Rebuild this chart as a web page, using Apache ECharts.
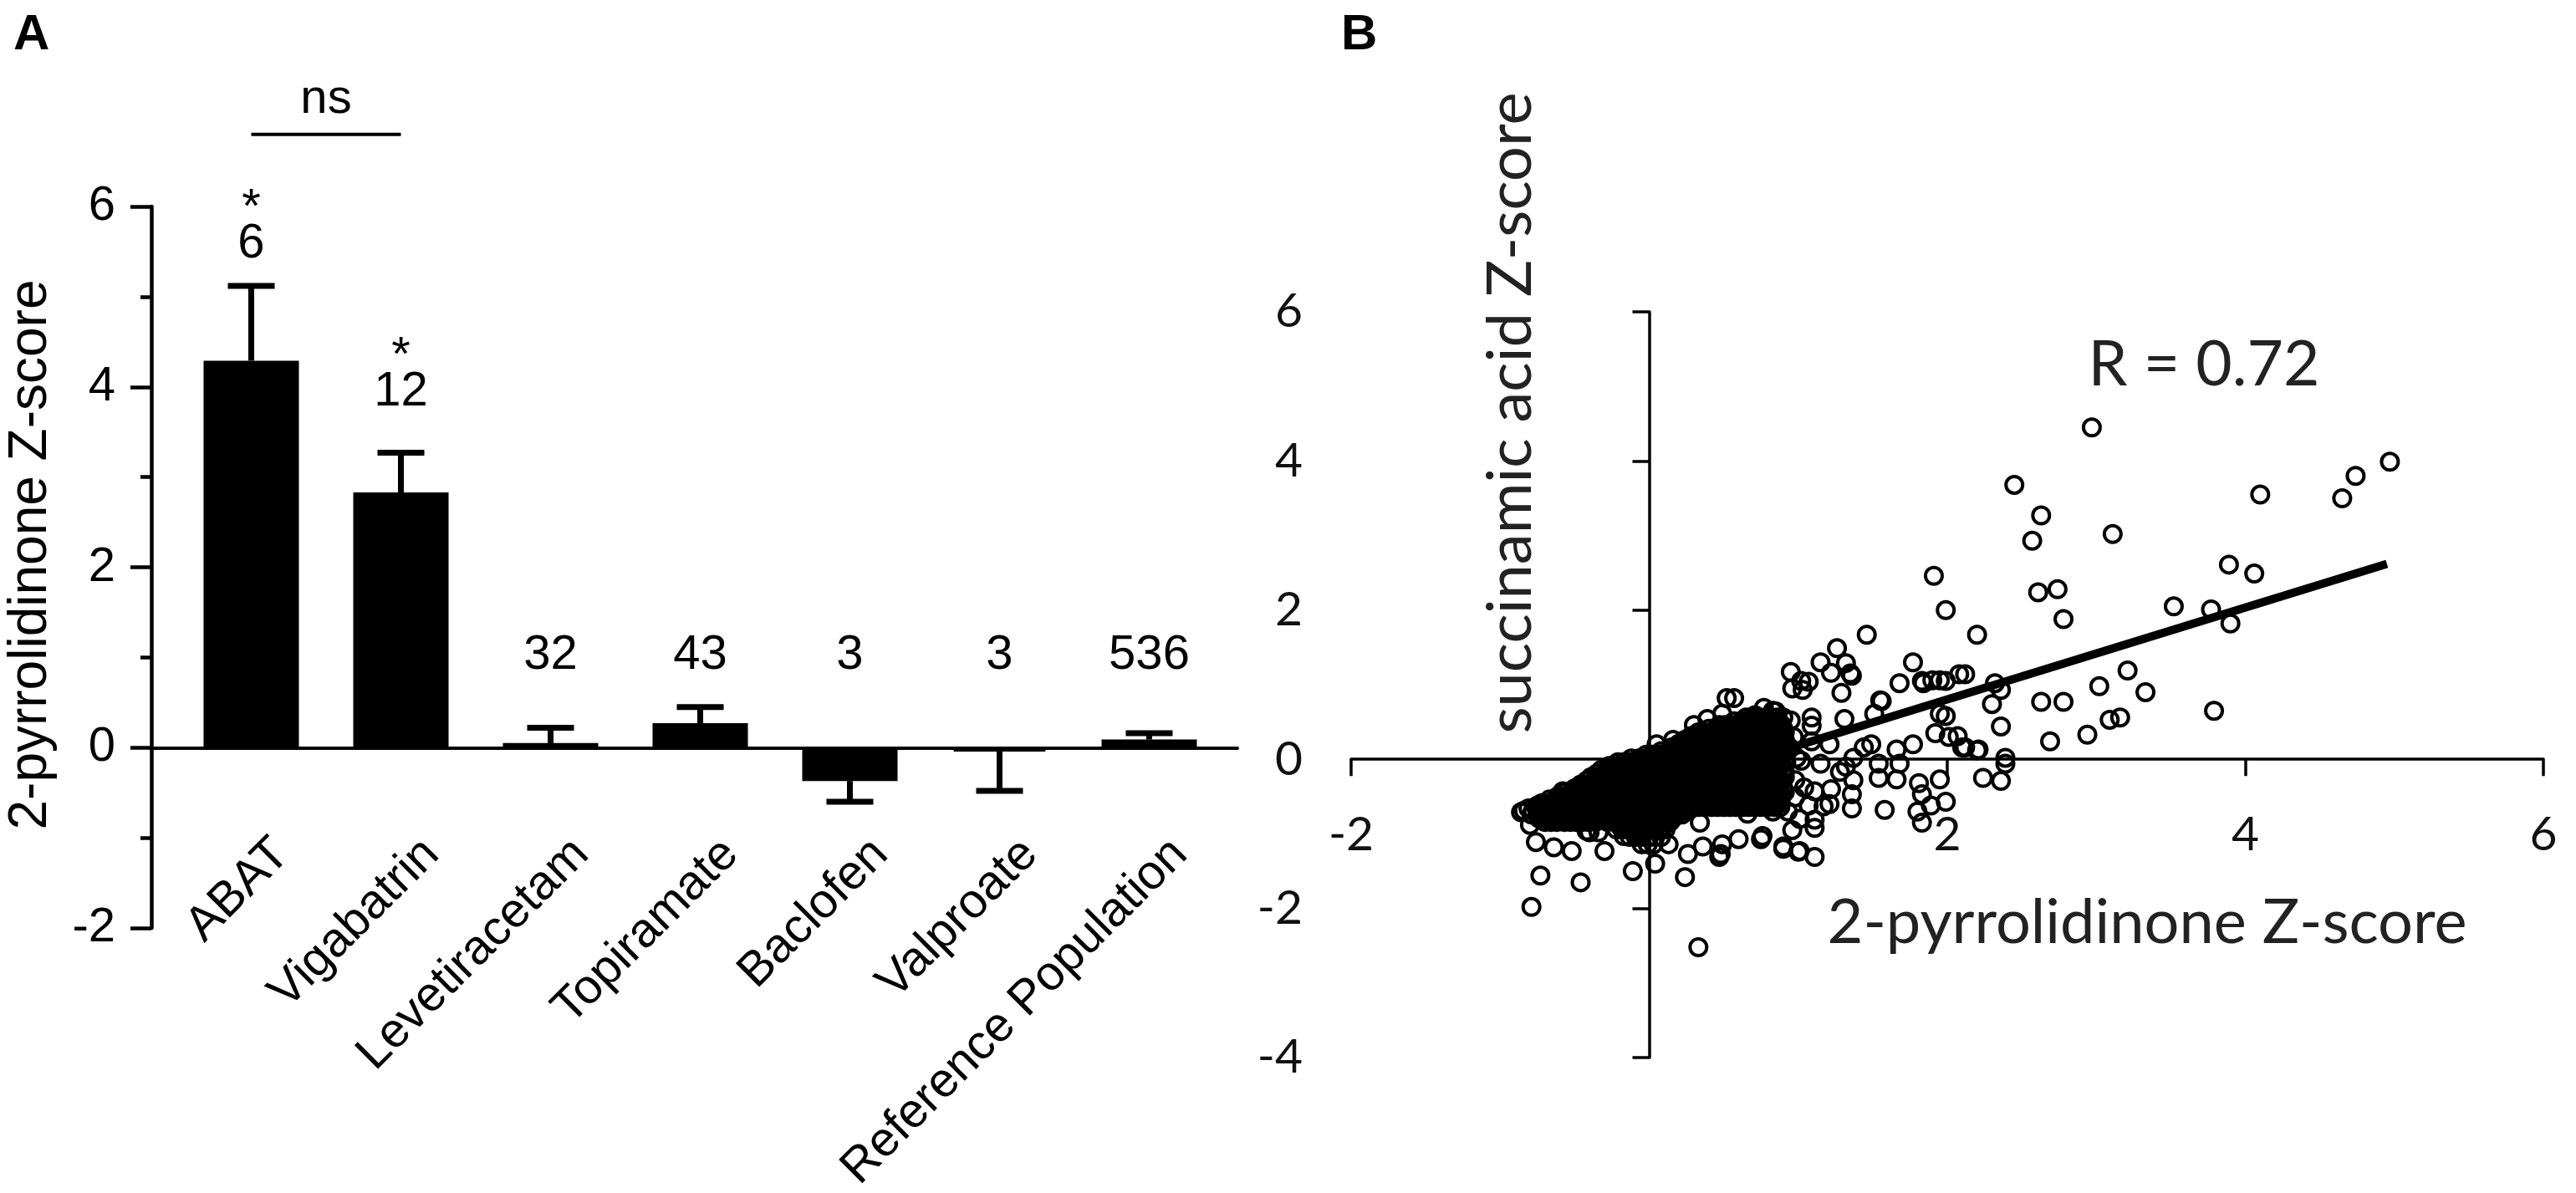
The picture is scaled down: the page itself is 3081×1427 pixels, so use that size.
<!DOCTYPE html>
<html>
<head>
<meta charset="utf-8">
<title>2-pyrrolidinone Z-score</title>
<script src="https://cdn.jsdelivr.net/npm/echarts@6/dist/echarts.min.js"></script>
<style>
  html, body { margin: 0; padding: 0; background: #fff; }
  #main { width: 3081px; height: 1427px; }
</style>
</head>
<body>
<div id="main"></div>
<script>
// ---- panel A data ----
var drugs = ['ABAT', 'Vigabatrin', 'Levetiracetam', 'Topiramate', 'Baclofen', 'Valproate', 'Reference Population'];
var meanZ = [4.29, 2.83, 0.05, 0.27, -0.37, -0.04, 0.09];
var semZ = [0.83, 0.44, 0.17, 0.18, 0.23, 0.44, 0.07];
var sampleN = ['6', '12', '32', '43', '3', '3', '536'];
var starred = [true, true, false, false, false, false, false];
var nLabelLevel = [5.58, 3.94, 1.02, 1.02, 1.02, 1.02, 1.02];
var nsLevel = 6.8;

// ---- panel B data ----
// dense core of the cloud (overlapping circles), read row by row: [y, [x, x, ...]]
var clusterRows = [
  [0.56, [0.65, 0.69, 0.74, 0.78, 0.82, 0.86, 0.90]],
  [0.51, [0.57, 0.62, 0.67, 0.72, 0.77, 0.82, 0.87]],
  [0.46, [0.47, 0.51, 0.55, 0.60, 0.64, 0.68, 0.72, 0.76, 0.81, 0.85, 0.89]],
  [0.41, [0.40, 0.45, 0.50, 0.55, 0.60, 0.65, 0.70, 0.75, 0.80, 0.85, 0.90]],
  [0.36, [0.33, 0.37, 0.41, 0.46, 0.50, 0.54, 0.58, 0.62, 0.66, 0.71, 0.75, 0.79, 0.83, 0.87, 0.91]],
  [0.31, [0.28, 0.33, 0.38, 0.43, 0.48, 0.53, 0.58, 0.63, 0.68, 0.73, 0.78, 0.83, 0.88]],
  [0.26, [0.24, 0.28, 0.32, 0.37, 0.41, 0.45, 0.49, 0.53, 0.57, 0.62, 0.66, 0.70, 0.74, 0.78, 0.83, 0.87, 0.91]],
  [0.21, [0.20, 0.25, 0.30, 0.35, 0.40, 0.45, 0.50, 0.55, 0.60, 0.65, 0.70, 0.75, 0.80, 0.85, 0.90]],
  [0.16, [0.15, 0.19, 0.23, 0.28, 0.32, 0.36, 0.40, 0.44, 0.49, 0.53, 0.57, 0.61, 0.65, 0.70, 0.74, 0.78, 0.82, 0.86, 0.91]],
  [0.11, [0.08, 0.13, 0.18, 0.23, 0.28, 0.33, 0.38, 0.43, 0.48, 0.53, 0.58, 0.63, 0.68, 0.73, 0.78, 0.83, 0.88]],
  [0.06, [-0.02, 0.02, 0.06, 0.11, 0.15, 0.19, 0.23, 0.27, 0.32, 0.36, 0.40, 0.44, 0.48, 0.53, 0.57, 0.61, 0.65, 0.69, 0.74, 0.78, 0.82, 0.86, 0.90]],
  [0.01, [-0.12, -0.07, -0.02, 0.03, 0.08, 0.13, 0.18, 0.23, 0.28, 0.33, 0.38, 0.43, 0.48, 0.53, 0.58, 0.63, 0.68, 0.73, 0.78, 0.83, 0.88]],
  [-0.04, [-0.21, -0.17, -0.13, -0.08, -0.04, 0.00, 0.04, 0.08, 0.13, 0.17, 0.21, 0.25, 0.29, 0.34, 0.38, 0.42, 0.46, 0.50, 0.55, 0.59, 0.63, 0.67, 0.71, 0.76, 0.80, 0.84, 0.88, 0.92]],
  [-0.09, [-0.27, -0.22, -0.17, -0.12, -0.07, -0.02, 0.03, 0.08, 0.13, 0.18, 0.23, 0.28, 0.33, 0.38, 0.43, 0.48, 0.53, 0.58, 0.63, 0.68, 0.73, 0.78, 0.83, 0.88]],
  [-0.14, [-0.32, -0.28, -0.24, -0.19, -0.15, -0.11, -0.07, -0.03, 0.02, 0.06, 0.10, 0.14, 0.18, 0.23, 0.27, 0.31, 0.35, 0.39, 0.44, 0.48, 0.52, 0.56, 0.60, 0.65, 0.69, 0.73, 0.77, 0.81, 0.86, 0.90]],
  [-0.19, [-0.35, -0.30, -0.25, -0.20, -0.15, -0.10, -0.05, 0.00, 0.05, 0.10, 0.15, 0.20, 0.25, 0.30, 0.35, 0.40, 0.45, 0.50, 0.55, 0.60, 0.65, 0.70, 0.75, 0.80, 0.85, 0.90]],
  [-0.24, [-0.39, -0.35, -0.31, -0.26, -0.22, -0.18, -0.14, -0.10, -0.05, -0.01, 0.03, 0.07, 0.11, 0.16, 0.20, 0.24, 0.28, 0.32, 0.37, 0.41, 0.45, 0.49, 0.53, 0.58, 0.62, 0.66, 0.70, 0.74, 0.79, 0.83, 0.87, 0.91]],
  [-0.29, [-0.42, -0.37, -0.32, -0.27, -0.22, -0.17, -0.12, -0.07, -0.02, 0.03, 0.08, 0.13, 0.18, 0.23, 0.28, 0.33, 0.38, 0.43, 0.48, 0.53, 0.58, 0.63, 0.68, 0.73, 0.78, 0.83, 0.88]],
  [-0.34, [-0.46, -0.42, -0.38, -0.33, -0.29, -0.25, -0.21, -0.17, -0.12, -0.08, -0.04, 0.00, 0.04, 0.09, 0.13, 0.17, 0.21, 0.25, 0.30, 0.34, 0.38, 0.42, 0.46, 0.51, 0.55, 0.59, 0.63, 0.67, 0.72, 0.76, 0.80, 0.84, 0.88]],
  [-0.39, [-0.50, -0.45, -0.40, -0.35, -0.30, -0.25, -0.20, -0.15, -0.10, -0.05, 0.00, 0.05, 0.10, 0.15, 0.20, 0.25, 0.30, 0.35, 0.40, 0.45, 0.50, 0.55, 0.60, 0.65, 0.70, 0.75, 0.80, 0.85, 0.90]],
  [-0.44, [-0.56, -0.52, -0.48, -0.43, -0.39, -0.35, -0.31, -0.27, -0.22, -0.18, -0.14, -0.10, -0.06, -0.01, 0.03, 0.07, 0.11, 0.15, 0.20, 0.24, 0.28, 0.32, 0.36, 0.41, 0.45, 0.49, 0.53, 0.57, 0.62, 0.66, 0.70, 0.74, 0.78, 0.83, 0.87, 0.91]],
  [-0.49, [-0.61, -0.56, -0.51, -0.46, -0.41, -0.36, -0.31, -0.26, -0.21, -0.16, -0.11, -0.06, -0.01, 0.04, 0.09, 0.14, 0.19, 0.24, 0.29, 0.34, 0.39, 0.44, 0.49, 0.54, 0.59, 0.64, 0.69, 0.74, 0.79, 0.84, 0.89]],
  [-0.54, [-0.67, -0.63, -0.59, -0.54, -0.50, -0.46, -0.42, -0.38, -0.33, -0.29, -0.25, -0.21, -0.17, -0.12, -0.08, -0.04, 0.00, 0.04, 0.09, 0.13, 0.17, 0.21, 0.25, 0.30, 0.34, 0.38, 0.42, 0.46, 0.51, 0.55, 0.59, 0.63, 0.67, 0.72, 0.76, 0.80, 0.84, 0.88]],
  [-0.59, [-0.72, -0.67, -0.62, -0.57, -0.52, -0.47, -0.42, -0.37, -0.32, -0.27, -0.22, -0.17, -0.12, -0.07, -0.02, 0.03, 0.08, 0.13, 0.18, 0.23, 0.28, 0.33, 0.38, 0.43, 0.48, 0.53, 0.58, 0.63, 0.68, 0.73, 0.78, 0.83, 0.88]],
  [-0.64, [-0.76, -0.72, -0.68, -0.63, -0.59, -0.55, -0.51, -0.47, -0.42, -0.38, -0.34, -0.30, -0.26, -0.21, -0.17, -0.13, -0.09, -0.05, 0.00, 0.04, 0.08, 0.12, 0.16, 0.21, 0.25, 0.29, 0.33, 0.37, 0.42, 0.46, 0.50, 0.54, 0.58, 0.63, 0.67, 0.71, 0.75, 0.79, 0.84, 0.88]],
  [-0.69, [-0.78, -0.73, -0.68, -0.63, -0.58, -0.53, -0.48, -0.43, -0.38, -0.33, -0.28, -0.23, -0.18, -0.13, -0.08, -0.03, 0.02, 0.07, 0.12, 0.17, 0.22]],
  [-0.74, [-0.79, -0.75, -0.71, -0.66, -0.62, -0.58, -0.54, -0.50, -0.45, -0.41, -0.37, -0.33, -0.29, -0.24, -0.20, -0.16, -0.12, -0.08, -0.03, 0.01, 0.05, 0.09, 0.13, 0.18, 0.22]],
  [-0.79, [-0.74, -0.69, -0.64, -0.59, -0.54, -0.49, -0.44, -0.39, -0.34, -0.24, -0.19, -0.14, -0.09, -0.04, 0.01, 0.06, 0.11, 0.16]],
  [-0.84, [-0.70, -0.66, -0.62, -0.57, -0.53, -0.49, -0.45, -0.41, -0.36, -0.28, -0.23, -0.19, -0.15, -0.11, -0.06, -0.02, 0.02, 0.06, 0.10, 0.14]],
  [-0.89, [-0.20, -0.15, -0.10, -0.05, 0.00, 0.05, 0.10]],
  [-0.94, [-0.22, -0.18, -0.14, -0.09, -0.05, -0.01, 0.03, 0.07, 0.11]],
  [-1.04, [-0.13, -0.09, -0.05, 0.00, 0.04, 0.08]],
  [-1.14, [-0.05, -0.01, 0.03]]
];

// individual circles around the core and in the sparse tail
var spreadPoints = [
  [2.97, 4.45], [2.45, 3.68], [2.63, 3.27], [2.57, 2.93], [3.11, 3.02], [4.10, 3.55], [4.65, 3.50],
  [4.74, 3.80], [4.97, 3.99], [2.61, 2.24], [2.74, 2.28], [2.78, 1.88], [2.20, 1.67], [3.89, 2.61],
  [4.06, 2.49], [3.52, 2.05], [3.77, 2.01], [3.90, 1.82], [2.12, 1.14], [2.32, 1.02], [2.36, 0.93],
  [2.30, 0.74], [2.36, 0.44], [2.63, 0.77], [2.78, 0.77], [3.02, 0.98], [3.21, 1.19], [3.33, 0.90],
  [3.09, 0.53], [3.16, 0.56], [2.94, 0.33], [2.69, 0.24], [3.79, 0.65], [2.20, 0.12], [2.12, 0.16],
  [2.39, 0.02], [2.39, -0.06], [2.24, -0.25], [2.36, -0.29], [1.91, 2.46], [1.99, 2.00],
  [1.46, 1.67], [1.26, 1.49], [1.15, 1.30], [0.95, 1.17], [1.32, 1.29], [1.36, 1.12], [1.22, 1.16],
  [1.07, 1.04], [1.03, 0.93], [1.29, 0.89], [1.77, 1.30], [1.68, 1.02], [1.84, 1.02], [1.90, 1.06],
  [1.95, 1.06], [2.08, 1.14], [1.56, 0.78], [1.51, 0.61], [1.31, 0.54], [1.09, 0.56], [1.09, 0.45],
  [1.95, 0.61], [1.99, 0.58], [1.92, 0.35], [2.01, 0.30], [2.07, 0.31], [2.10, 0.16], [2.21, 0.13],
  [1.77, 0.20], [1.66, 0.13], [1.68, -0.06], [1.54, -0.25], [1.66, -0.27], [1.81, -0.32], [1.95, -0.27],
  [1.83, -0.47], [1.89, -0.62], [1.99, -0.57], [1.80, -0.70], [1.83, -0.85], [1.58, -0.68], [1.49, 0.20],
  [1.44, 0.16], [1.37, 0.02], [1.54, -0.06], [1.32, -0.10], [1.15, -0.06], [1.28, -0.17], [1.37, -0.28],
  [1.36, -0.47], [1.36, -0.66], [1.22, -0.40], [1.21, -0.60], [1.11, -0.43], [1.07, -0.62], [1.11, -0.81],
  [1.11, -0.92], [0.98, -0.51], [0.93, -0.70], [0.83, -0.70], [0.76, -1.03], [0.90, -1.20], [1.00, -1.24],
  [1.11, -1.31], [1.02, -0.02], [0.94, 0.16], [1.09, 0.24], [1.21, 0.20], [0.83, 0.65], [0.87, 0.46],
  [0.78, 0.28], [0.91, -0.17], [0.79, -0.32], [0.85, -0.47], [1.02, 1.05], [1.35, 1.15], [1.55, 0.79],
  [1.83, 1.05], [1.99, 1.05], [1.17, -0.63], [1.01, -1.23], [0.90, -1.17], [0.48, -1.27], [0.36, -1.17],
  [0.24, -1.58], [0.33, -2.52], [0.04, -1.40], [-0.11, -1.50], [-0.30, -1.23], [-0.52, -1.23],
  [-0.46, -1.65], [-0.73, -1.56], [-0.79, -1.98], [-0.84, -0.69], [-0.64, -1.18], [-0.76, -1.11],
  [-0.80, -0.88], [-0.81, -0.66], [-0.86, -0.71], [-0.75, -0.62], [-0.40, -0.98], [-0.34, -0.98],
  [-0.42, -0.96], [-0.17, -1.03], [-0.58, -0.43], [-0.64, -0.58], [-0.69, -0.77], [0.57, 0.82],
  [0.49, 0.61], [0.39, 0.54], [0.30, 0.46], [0.16, 0.26], [0.05, 0.20], [0.77, 0.69], [0.26, -1.27],
  [0.47, -1.31], [0.49, -1.14], [0.60, -1.07], [0.75, -1.07], [0.66, -0.73], [0.13, -1.14], [0.34, -0.85],
  [0.52, 0.82], [0.71, 0.59], [0.85, 0.64], [0.96, 0.95], [0.97, 0.30], [0.98, -0.28], [1.01, -0.80],
  [0.95, 0.52], [0.99, 0.02], [1.04, -0.38], [0.96, -0.95]
];

// fitted line, read at its two ends
var fitLine = [[-0.6, -0.80], [4.95, 2.62]];

var scatterData = [];
clusterRows.forEach(function (row) {
  row[1].forEach(function (x) { scatterData.push([x, row[0]]); });
});
scatterData = scatterData.concat(spreadPoints);

var fontA = '"Liberation Sans", Arial, sans-serif';
var fontB = 'Lato, "Open Sans", sans-serif';

// panel B plot box; its upper part (y >= 0) carries the x axis
var bBox = { left: 1616, top: 373, width: 1426, height: 892 };
var bY = { min: -4, max: 6 };
var bUpperHeight = bBox.height * bY.max / (bY.max - bY.min);

var myChart = echarts.init(document.getElementById('main'));

var option = {
  backgroundColor: '#fff',
  animation: false,
  grid: [
    { left: 211, top: 247, width: 1253, height: 863 },   // bars
    { left: 181, top: 247, width: 1299, height: 863 },   // axis frame of A
    { left: bBox.left, top: bBox.top, width: bBox.width, height: bBox.height },  // scatter
    { left: bBox.left, top: bBox.top, width: bBox.width, height: bUpperHeight }  // x axis of B on y = 0
  ],
  xAxis: [
    { gridIndex: 0, type: 'category', data: drugs, show: false },
    {
      gridIndex: 1, type: 'value', min: 0, max: 1,
      axisLine: { onZero: true, lineStyle: { color: '#000', width: 4 } },
      axisTick: { show: false }, axisLabel: { show: false }, splitLine: { show: false }
    },
    { gridIndex: 2, type: 'value', min: -2, max: 6, show: false },
    {
      gridIndex: 3, type: 'value', min: -2, max: 6, interval: 2,
      axisLine: { onZero: false, lineStyle: { color: '#000', width: 3.5 } },
      axisTick: { length: 20, lineStyle: { color: '#000', width: 3.5 } },
      axisLabel: {
        margin: 62, fontSize: 57, fontFamily: fontB, color: '#111',
        formatter: function (v) { return v === 0 ? '' : v; }
      },
      splitLine: { show: false }
    }
  ],
  yAxis: [
    { gridIndex: 0, type: 'value', min: -2, max: 6, show: false },
    {
      gridIndex: 1, type: 'value', min: -2, max: 6, interval: 2,
      name: '2-pyrrolidinone Z-score', nameLocation: 'middle', nameGap: 112,
      nameTextStyle: { fontSize: 64, fontFamily: fontA, color: '#000', padding: [0, 0, 0, 30] },
      axisLine: { onZero: false, lineStyle: { color: '#000', width: 4.5 } },
      axisTick: { length: 25, lineStyle: { color: '#000', width: 4.5 } },
      minorTick: { show: true, splitNumber: 2, length: 13, lineStyle: { color: '#000', width: 4.5 } },
      axisLabel: { margin: 43, fontSize: 58, fontFamily: fontA, color: '#000' },
      splitLine: { show: false }, minorSplitLine: { show: false }
    },
    {
      gridIndex: 2, type: 'value', min: bY.min, max: bY.max, interval: 2,
      axisLine: { onZero: true, lineStyle: { color: '#000', width: 3.5 } },
      axisTick: { length: 20, lineStyle: { color: '#000', width: 3.5 } },
      axisLabel: { margin: 58, fontSize: 57, fontFamily: fontB, color: '#111' },
      splitLine: { show: false }
    },
    { gridIndex: 3, type: 'value', min: 0, max: bY.max, show: false }
  ],
  series: [
    {
      type: 'bar', xAxisIndex: 0, yAxisIndex: 0,
      data: meanZ, barWidth: 114,
      itemStyle: { color: '#000', borderColor: '#000', borderWidth: 5 },
      silent: true
    },
    {
      // one-sided error bars (SEM), away from zero
      type: 'custom', xAxisIndex: 0, yAxisIndex: 0, silent: true,
      data: meanZ.map(function (m, i) { return [i, m, semZ[i]]; }),
      renderItem: function (params, api) {
        var i = api.value(0), m = api.value(1), e = api.value(2);
        var end = m >= 0 ? m + e : m - e;
        var p0 = api.coord([i, m]);
        var p1 = api.coord([i, end]);
        var st = { stroke: '#000', lineWidth: 7 };
        return {
          type: 'group',
          children: [
            { type: 'line', shape: { x1: p0[0], y1: p0[1], x2: p1[0], y2: p1[1] }, style: st },
            { type: 'line', shape: { x1: p1[0] - 28, y1: p1[1], x2: p1[0] + 28, y2: p1[1] }, style: st }
          ]
        };
      }
    },
    {
      // group sizes and significance stars
      type: 'custom', xAxisIndex: 0, yAxisIndex: 0, silent: true,
      data: sampleN.map(function (n, i) { return [i, nLabelLevel[i]]; }),
      renderItem: function (params, api) {
        var i = params.dataIndex;
        var p = api.coord([api.value(0), api.value(1)]);
        var kids = [{
          type: 'text', x: p[0], y: p[1],
          style: {
            text: sampleN[i], fill: '#000', font: '58px ' + fontA,
            align: 'center', verticalAlign: 'middle', textAlign: 'center', textVerticalAlign: 'middle'
          }
        }];
        if (starred[i]) {
          kids.push({
            type: 'text', x: p[0], y: p[1] - 42,
            style: {
              text: '*', fill: '#000', font: '58px ' + fontA,
              align: 'center', verticalAlign: 'middle', textAlign: 'center', textVerticalAlign: 'middle'
            }
          });
        }
        return { type: 'group', children: kids };
      }
    },
    {
      // rotated category names under the zero line
      type: 'custom', xAxisIndex: 0, yAxisIndex: 0, silent: true,
      data: drugs.map(function (d, i) { return [i, 0]; }),
      renderItem: function (params, api) {
        var p = api.coord([api.value(0), 0]);
        return {
          type: 'text', x: p[0] + 16, y: p[1] + 98, rotation: Math.PI / 4,
          style: {
            text: drugs[params.dataIndex], fill: '#000', font: '58px ' + fontA,
            align: 'right', verticalAlign: 'top', textAlign: 'right', textVerticalAlign: 'top'
          }
        };
      }
    },
    {
      // "ns" bracket between ABAT and Vigabatrin
      type: 'custom', xAxisIndex: 0, yAxisIndex: 0, silent: true,
      data: [[0, 1, nsLevel]],
      renderItem: function (params, api) {
        var a = api.coord([api.value(0), api.value(2)]);
        var b = api.coord([api.value(1), api.value(2)]);
        return {
          type: 'group',
          children: [
            { type: 'line', shape: { x1: a[0], y1: a[1], x2: b[0], y2: b[1] }, style: { stroke: '#000', lineWidth: 4 } },
            {
              type: 'text', x: (a[0] + b[0]) / 2, y: a[1] - 42,
              style: {
                text: 'ns', fill: '#000', font: '58px ' + fontA,
                align: 'center', verticalAlign: 'middle', textAlign: 'center', textVerticalAlign: 'middle'
              }
            }
          ]
        };
      }
    },
    {
      type: 'scatter', xAxisIndex: 2, yAxisIndex: 2, silent: true,
      data: scatterData,
      symbol: 'circle', symbolSize: 20,
      itemStyle: { color: 'rgba(0,0,0,0)', borderColor: '#000', borderWidth: 4, opacity: 1 },
      z: 2
    },
    {
      type: 'line', xAxisIndex: 2, yAxisIndex: 2, silent: true,
      data: fitLine, symbol: 'none',
      lineStyle: { color: '#000', width: 10 },
      z: 3
    }
  ],
  graphic: [
    { type: 'text', left: 16, top: 12, style: { text: 'A', font: 'bold 60px ' + fontA, fill: '#000' } },
    { type: 'text', left: 1604, top: 12, style: { text: 'B', font: 'bold 60px ' + fontA, fill: '#000' } },
    {
      type: 'text', x: 2636, y: 437,
      style: { text: 'R = 0.72', font: '75px ' + fontB, fill: '#222', align: 'center', verticalAlign: 'middle', textAlign: 'center', textVerticalAlign: 'middle' }
    },
    {
      type: 'text', x: 2568, y: 1104,
      style: { text: '2-pyrrolidinone Z-score', font: '74px ' + fontB, fill: '#222', align: 'center', verticalAlign: 'middle', textAlign: 'center', textVerticalAlign: 'middle' }
    },
    {
      type: 'text', x: 1807, y: 494, rotation: Math.PI / 2,
      style: { text: 'succinamic acid Z-score', font: '74px ' + fontB, fill: '#222', align: 'center', verticalAlign: 'middle', textAlign: 'center', textVerticalAlign: 'middle' }
    }
  ]
};

myChart.setOption(option);
</script>
</body>
</html>
